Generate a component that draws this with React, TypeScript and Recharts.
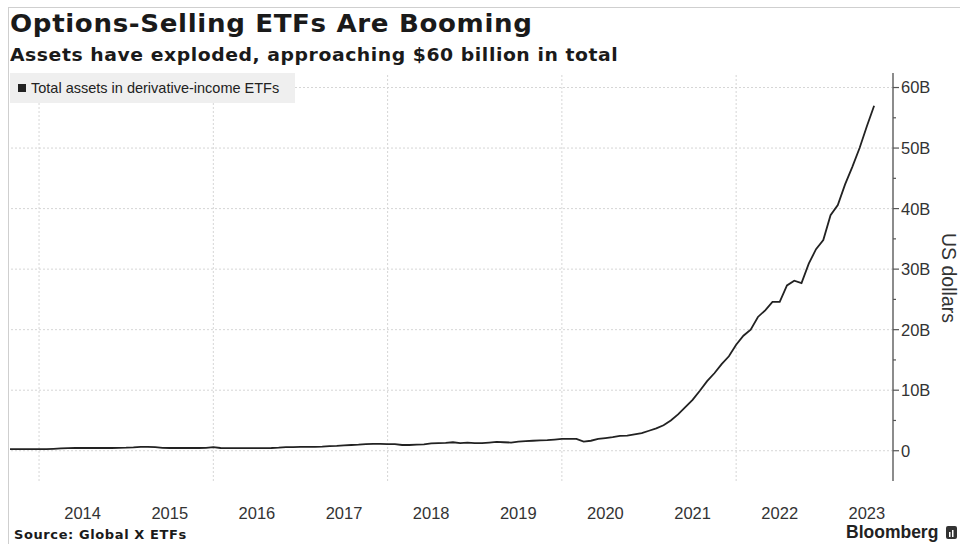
import { LineChart, Line, XAxis, YAxis, ReferenceLine } from 'recharts'

const START_YEAR = 2013
const START_MONTH = 9 // first observation: September 2013

// Total assets in derivative-income ETFs, US$ billions, month by month
const totalAssets = [
  // 2013 (Sep-Dec)
  0.25, 0.25, 0.25, 0.25,
  // 2014
  0.25, 0.28, 0.32, 0.38, 0.42, 0.45, 0.45, 0.45, 0.45, 0.45, 0.45, 0.48,
  // 2015
  0.5, 0.55, 0.63, 0.65, 0.6, 0.48, 0.45, 0.45, 0.45, 0.45, 0.45, 0.48,
  // 2016
  0.6, 0.45, 0.42, 0.42, 0.42, 0.42, 0.42, 0.43, 0.45, 0.5, 0.58, 0.6,
  // 2017
  0.63, 0.63, 0.65, 0.68, 0.75, 0.8, 0.9, 0.95, 1.0, 1.1, 1.12, 1.12,
  // 2018
  1.1, 1.08, 0.95, 0.95, 1.0, 1.05, 1.2, 1.25, 1.3, 1.4, 1.25, 1.35,
  // 2019
  1.25, 1.25, 1.35, 1.45, 1.4, 1.35, 1.5, 1.6, 1.65, 1.7, 1.75, 1.85,
  // 2020
  1.95, 1.95, 1.95, 1.5, 1.65, 1.95, 2.1, 2.25, 2.45, 2.5, 2.7, 2.9,
  // 2021
  3.3, 3.7, 4.2, 5.0, 6.0, 7.2, 8.4, 9.9, 11.5, 12.8, 14.3, 15.6,
  // 2022
  17.5, 19.0, 20.0, 22.1, 23.2, 24.6, 24.6, 27.3, 28.1, 27.7, 30.9, 33.3,
  // 2023 (Jan-Aug)
  34.8, 38.9, 40.6, 44.0, 46.9, 50.0, 53.6, 57.0,
]

const yearLabels = [2014, 2015, 2016, 2017, 2018, 2019, 2020, 2021, 2022, 2023]
const gridYears = [2014, 2016, 2018, 2020, 2022]
const valueTicks = [0, 5, 10, 15, 20, 25, 30, 35, 40, 45, 50, 55, 60]
const gridValues = [0, 10, 20, 30, 40, 50, 60]

const firstT = START_YEAR + (START_MONTH - 1) / 12
const data = totalAssets.map((assets, i) => ({ t: firstT + i / 12, assets }))

const LABEL_FONT = '"Liberation Sans", Arial, sans-serif'
const HEAD_FONT = '"DejaVu Sans", Verdana, sans-serif'

function AssetTick(props: any) {
  const { x, y, payload } = props
  const v = payload.value as number
  const major = v % 10 === 0
  return (
    <g>
      <line x1={x - 8} x2={x - (major ? 2 : 5)} y1={y} y2={y} stroke="#555" strokeWidth={1.2} />
      {major && (
        <text x={x} y={y} dy="0.36em" textAnchor="start" fill="#333" fontSize={16.5} fontFamily={LABEL_FONT}>
          {v === 0 ? '0' : `${v}B`}
        </text>
      )}
    </g>
  )
}

export default function App() {
  return (
    <div
      style={{
        position: 'absolute',
        left: 0,
        top: 0,
        width: 960,
        height: 544,
        background: '#fff',
        overflow: 'hidden',
        fontFamily: LABEL_FONT,
        color: '#1a1a1a',
      }}
    >
      {/* card frame */}
      <div
        style={{
          position: 'absolute',
          left: 8,
          top: 7,
          right: 0,
          bottom: 0,
          borderTop: '1px solid #cfcfcf',
          borderLeft: '1px solid #cfcfcf',
        }}
      />
      <div style={{ position: 'absolute', left: 0, top: 0 }}>
        <LineChart width={960} height={544} data={data} margin={{ top: 73, right: 7, bottom: 33, left: 10 }}>
          <XAxis
            dataKey="t"
            type="number"
            domain={[firstT, 2023.8]}
            allowDataOverflow
            ticks={yearLabels.map((y) => y + 0.5)}
            tickFormatter={(v: number) => String(Math.floor(v))}
            axisLine={false}
            tickLine={false}
            tickMargin={20}
            tick={{ fill: '#333', fontSize: 16.5, fontFamily: LABEL_FONT }}
          />
          <YAxis
            orientation="right"
            type="number"
            domain={[-5, 62.4]}
            allowDataOverflow
            ticks={valueTicks}
            interval={0}
            width={60}
            axisLine={{ stroke: '#666', strokeWidth: 1.5 }}
            tickLine={false}
            tick={<AssetTick />}
          />
          {gridValues.map((v) => (
            <ReferenceLine key={`h${v}`} y={v} stroke="#d6d6d6" strokeDasharray="2 2" />
          ))}
          {gridYears.map((y) => (
            <ReferenceLine key={`v${y}`} x={y} stroke="#d6d6d6" strokeDasharray="2 2" />
          ))}
          <Line
            type="linear"
            dataKey="assets"
            stroke="#222"
            strokeWidth={1.8}
            dot={false}
            activeDot={false}
            isAnimationActive={false}
          />
        </LineChart>
      </div>

      {/* legend */}
      <div
        style={{
          position: 'absolute',
          left: 10,
          top: 73,
          width: 285,
          height: 30,
          background: '#efefef',
        }}
      >
        <span style={{ position: 'absolute', left: 8, top: 11, width: 8, height: 8, background: '#222' }} />
        <span
          style={{
            position: 'absolute',
            left: 21,
            top: 0,
            lineHeight: '30px',
            fontSize: 14.5,
            color: '#222',
            whiteSpace: 'nowrap',
          }}
        >
          Total assets in derivative-income ETFs
        </span>
      </div>

      {/* headline and deck, widened to the wide bold face */}
      <div
        style={{
          position: 'absolute',
          left: 10,
          top: 12,
          fontFamily: HEAD_FONT,
          fontWeight: 700,
          fontSize: 24,
          lineHeight: '24px',
          letterSpacing: 0.6,
          whiteSpace: 'nowrap',
          transform: 'scaleX(1.087)',
          transformOrigin: 'left top',
        }}
      >
        Options-Selling ETFs Are Booming
      </div>
      <div
        style={{
          position: 'absolute',
          left: 10,
          top: 46.5,
          fontFamily: HEAD_FONT,
          fontWeight: 700,
          fontSize: 16.8,
          lineHeight: '17px',
          letterSpacing: 0.5,
          whiteSpace: 'nowrap',
          transform: 'scaleX(1.12)',
          transformOrigin: 'left top',
        }}
      >
        Assets have exploded, approaching $60 billion in total
      </div>

      {/* axis title */}
      <div
        style={{
          position: 'absolute',
          left: 949,
          top: 278,
          transform: 'translate(-50%, -50%) rotate(90deg)',
          fontSize: 19.5,
          lineHeight: '20px',
          color: '#333',
          whiteSpace: 'nowrap',
        }}
      >
        US dollars
      </div>

      <div
        style={{
          position: 'absolute',
          left: 14,
          top: 528,
          fontFamily: HEAD_FONT,
          fontWeight: 700,
          fontSize: 13,
          lineHeight: '14px',
          letterSpacing: 0.6,
          whiteSpace: 'nowrap',
        }}
      >
        Source: Global X ETFs
      </div>

      <div
        style={{
          position: 'absolute',
          left: 846,
          top: 523,
          fontWeight: 700,
          fontSize: 17.5,
          lineHeight: '18px',
          color: '#222',
          whiteSpace: 'nowrap',
          display: 'flex',
          alignItems: 'center',
          gap: 8,
        }}
      >
        Bloomberg
        <svg width={11} height={13} viewBox="0 0 11 13">
          <rect x={0} y={0} width={11} height={13} rx={2} fill="#333" />
          <rect x={3} y={6} width={1.5} height={5} fill="#fff" />
          <rect x={6} y={4} width={1.5} height={7} fill="#fff" />
        </svg>
      </div>
    </div>
  )
}
